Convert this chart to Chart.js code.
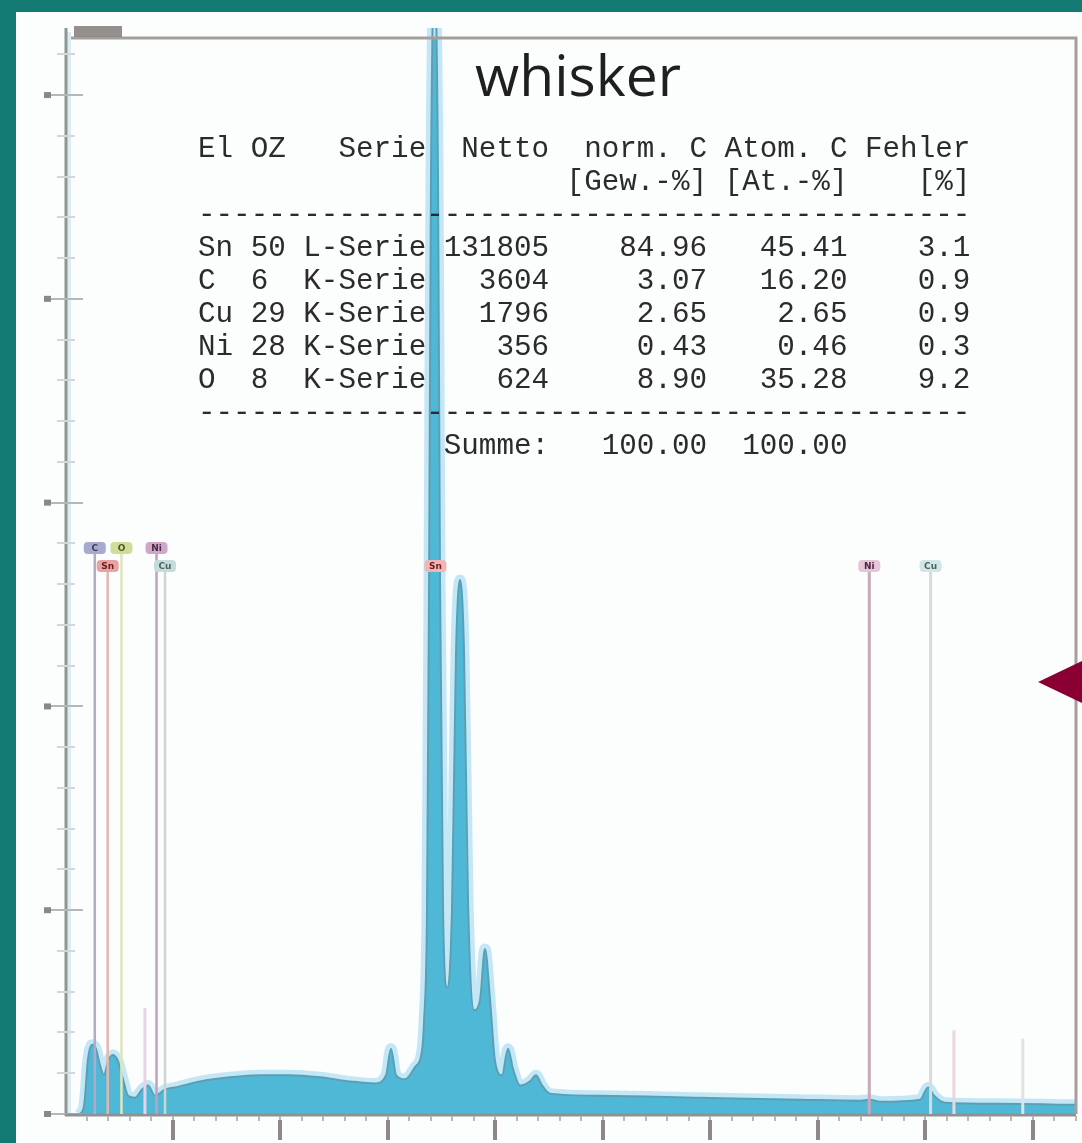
<!DOCTYPE html>
<html><head><meta charset="utf-8">
<script src="https://cdn.jsdelivr.net/npm/chart.js@4.4.1/dist/chart.umd.min.js"></script>
<style>
html,body{margin:0;padding:0;background:#137a73;overflow:hidden}
#wrap{position:absolute;left:0;top:0;width:1082px;height:1143px}
canvas{display:block}
</style></head><body><div id="wrap"><canvas id="c" width="1082" height="1143"></canvas></div>
<script>
// ---------- DATA ----------
const energyKeV = [0.139,0.177,0.214,0.251,0.288,0.325,0.363,0.400,0.446,0.493,0.539,0.586,0.651,0.716,0.772,0.837,0.930,1.023,1.255,1.534,1.813,2.092,2.371,2.650,2.882,2.985,3.031,3.078,3.161,3.254,3.319,3.338,3.366,3.385,3.403,3.436,3.468,3.487,3.515,3.552,3.598,3.636,3.673,3.710,3.747,3.803,3.859,3.905,3.952,3.998,4.063,4.119,4.166,4.231,4.324,4.379,4.435,4.510,4.974,5.904,6.834,7.392,7.485,7.578,7.950,8.024,8.080,8.182,8.694,9.400];
const intensity = [0.00,0.04,0.27,0.34,0.32,0.24,0.19,0.26,0.29,0.26,0.17,0.09,0.08,0.12,0.14,0.09,0.12,0.13,0.16,0.18,0.19,0.19,0.18,0.16,0.15,0.19,0.32,0.19,0.17,0.23,0.31,0.45,1.00,2.60,4.60,5.60,4.60,2.60,1.00,0.62,1.00,2.27,2.62,2.27,1.05,0.51,0.56,0.81,0.56,0.26,0.19,0.32,0.22,0.14,0.16,0.19,0.14,0.10,0.09,0.08,0.07,0.065,0.07,0.06,0.07,0.13,0.09,0.055,0.05,0.045];
const xTickValues = [1,2,3,4,5,6,7,8,9];
const yTickValues = [0,1,2,3,4,5];

const markerLabels   = ['C','O','Ni','Sn','Cu','Sn','Ni','Cu'];
const markerEnergies = [0.277,0.525,0.851,0.397,0.930,3.444,7.478,8.048];
const minorLineEnergies = [0.743,8.265,8.905];
const minorLineHeights  = [0.52,0.41,0.37];

const tableTitle  = 'whisker';
const tableEl     = ['Sn','C','Cu','Ni','O'];
const tableOZ     = ['50','6','29','28','8'];
const tableSerie  = ['L-Serie','K-Serie','K-Serie','K-Serie','K-Serie'];
const tableNetto  = ['131805','3604','1796','356','624'];
const tableNormC  = ['84.96','3.07','2.65','0.43','8.90'];
const tableAtomC  = ['45.41','16.20','2.65','0.46','35.28'];
const tableFehler = ['3.1','0.9','0.9','0.3','9.2'];
const summeNormC  = '100.00';
const summeAtomC  = '100.00';

// ---------- STYLES ----------
const markerStyle = [
  {row:0, box:'#a7a9cf', line:'#b3a9c9', text:'#3c3a5a'},
  {row:0, box:'#cfdc9a', line:'#dfe5bc', text:'#4a5a20'},
  {row:0, box:'#cfa7c9', line:'#bda3bb', text:'#4a2a44'},
  {row:1, box:'#e7a3a0', line:'#e3b6ae', text:'#6a1f22'},
  {row:1, box:'#c4dcdc', line:'#c9d6d3', text:'#4f6262'},
  {row:1, box:'#f2b4b4', line:null,      text:'#6a1f22'},
  {row:1, box:'#e6c6d6', line:'#c8a8ba', text:'#4a2a44'},
  {row:1, box:'#d2e6e6', line:'#d6dbdb', text:'#4f6262'}
];
const minorLineColors = ['#e6d3e6','#ead6dc','#dfe3e3'];
const rowY = [548, 566];

const padStr = (s,n)=>String(s).padStart(n,' ');
function tableLines(){
  const L = [];
  L.push('El '+'OZ '+padStr('Serie',7)+padStr('Netto',7)+padStr('norm. C',9)+padStr('Atom. C',8)+padStr('Fehler',7));
  L.push(' '.repeat(20)+padStr('[Gew.-%]',9)+padStr('[At.-%]',8)+padStr('[%]',7));
  L.push('-'.repeat(44));
  for(let i=0;i<tableEl.length;i++){
    L.push(tableEl[i].padEnd(3,' ')+tableOZ[i].padEnd(3,' ')+tableSerie[i]+padStr(tableNetto[i],7)+padStr(tableNormC[i],9)+padStr(tableAtomC[i],8)+padStr(tableFehler[i],7));
  }
  L.push('-'.repeat(44));
  L.push(' '.repeat(13)+padStr('Summe:',7)+padStr(summeNormC,9)+padStr(summeAtomC,8));
  return L;
}

const decor = {
  id:'decor',
  beforeDraw(chart){
    const c = chart.ctx;
    c.save();
    c.fillStyle = '#137a73';
    c.fillRect(0,0,chart.width,chart.height);
    c.fillStyle = '#fcfdfd';
    c.fillRect(16,12,chart.width-16,chart.height-12);
    c.restore();
  },
  afterDatasetsDraw(chart){
    const c = chart.ctx, a = chart.chartArea, xs = chart.scales.x, ys = chart.scales.y;
    c.save();
    // frame top/right
    c.strokeStyle = '#a59f9c'; c.lineWidth = 3;
    c.beginPath(); c.moveTo(a.left, a.top); c.lineTo(a.right, a.top); c.lineTo(a.right, a.bottom); c.stroke();
    // blob top-left
    c.fillStyle = 'rgba(130,124,122,0.85)';
    c.fillRect(a.left+9, a.top-12, 48, 11);
    // left axis
    c.strokeStyle = '#dcecf0'; c.lineWidth = 4;
    c.beginPath(); c.moveTo(a.left+4, a.top-6); c.lineTo(a.left+4, a.bottom); c.stroke();
    c.strokeStyle = '#8e9694'; c.lineWidth = 3;
    c.beginPath(); c.moveTo(a.left+1, a.top-10); c.lineTo(a.left+1, a.bottom+2); c.stroke();
    // y ticks
    c.lineWidth = 2;
    for(let v=0; v<=ys.max+1e-6; v+=0.2){
      const y = Math.round(ys.getPixelForValue(v));
      const major = Math.abs(v-Math.round(v))<1e-6;
      c.strokeStyle = major ? '#b4b9b8' : '#d3d7d7';
      c.beginPath(); c.moveTo(a.left-(major?20:8), y); c.lineTo(a.left+(major?18:10), y); c.stroke();
    }
    c.fillStyle = '#8a8787';
    yTickValues.forEach(v=>{ const y = ys.getPixelForValue(v); c.fillRect(a.left-21, y-3, 7, 6); });
    // bottom axis
    c.strokeStyle = '#8f9292'; c.lineWidth = 3;
    c.beginPath(); c.moveTo(a.left, a.bottom+1); c.lineTo(a.right, a.bottom+1); c.stroke();
    c.strokeStyle = '#b7b9b9'; c.lineWidth = 2;
    for(let v=0.2; v<xs.max; v+=0.2){
      const x = Math.round(xs.getPixelForValue(v));
      c.beginPath(); c.moveTo(x, a.bottom+2); c.lineTo(x, a.bottom+7); c.stroke();
    }
    c.strokeStyle = '#8d8887'; c.lineWidth = 4;
    xTickValues.forEach(v=>{
      const x = Math.round(xs.getPixelForValue(v));
      c.beginPath(); c.moveTo(x, a.bottom+6); c.lineTo(x, a.bottom+26); c.stroke();
    });
    // minor element lines
    c.lineWidth = 3;
    minorLineEnergies.forEach((e,i)=>{
      const x = xs.getPixelForValue(e);
      c.strokeStyle = minorLineColors[i];
      c.beginPath(); c.moveTo(x, ys.getPixelForValue(minorLineHeights[i])); c.lineTo(x, a.bottom); c.stroke();
    });
    // element marker lines + labels
    markerEnergies.forEach((e,i)=>{
      const st = markerStyle[i];
      const x = xs.getPixelForValue(e);
      const y = rowY[st.row];
      if(st.line){
        c.strokeStyle = st.line; c.lineWidth = (i>=6)?3:2.5;
        c.beginPath(); c.moveTo(x, y+6); c.lineTo(x, a.bottom); c.stroke();
      }
      c.fillStyle = st.box;
      const w = 22, h = 12;
      c.beginPath();
      if(c.roundRect) c.roundRect(x-w/2, y-h/2, w, h, 4); else c.rect(x-w/2, y-h/2, w, h);
      c.fill();
      c.fillStyle = st.text;
      c.font = 'bold 9px "DejaVu Sans"';
      c.textAlign = 'center'; c.textBaseline = 'middle';
      c.fillText(markerLabels[i], x, y+0.5);
    });
    // title
    c.fillStyle = '#1f1f1f';
    c.font = '400 57px "Open Sans"';
    c.textAlign = 'center'; c.textBaseline = 'alphabetic';
    c.fillText(tableTitle, 578, 96);
    // table
    c.font = '29.25px "Liberation Mono"';
    c.textAlign = 'left';
    c.fillStyle = '#2b2b2b';
    tableLines().forEach((ln,i)=>{ c.fillText(ln, 198, 157 + i*33); });
    // red triangle
    c.fillStyle = '#8a0033';
    c.beginPath(); c.moveTo(1038, 682); c.lineTo(1082, 661); c.lineTo(1082, 703); c.closePath(); c.fill();
    c.restore();
  }
};

const pts = energyKeV.map((e,i)=>({x:e, y:intensity[i]}));
new Chart(document.getElementById('c'), {
  type:'line',
  data:{ datasets:[
    { data:pts, fill:'origin', backgroundColor:'#50b8d7', borderColor:'#5d9fb2', borderWidth:2,
      pointRadius:0, cubicInterpolationMode:'monotone', order:1, clip:{left:0,top:10,right:0,bottom:0} },
    { data:pts, fill:false, borderColor:'rgba(165,220,242,0.65)', borderWidth:11,
      pointRadius:0, cubicInterpolationMode:'monotone', order:2, clip:{left:0,top:10,right:0,bottom:0} }
  ]},
  options:{
    responsive:false, animation:false, events:[],
    layout:{ padding:{left:65, right:6, top:38, bottom:29} },
    plugins:{ legend:{display:false}, tooltip:{enabled:false}, title:{display:false} },
    scales:{
      x:{ type:'linear', min:0, max:9.4, display:false },
      y:{ type:'linear', min:0, max:5.28, display:false }
    }
  },
  plugins:[decor]
});
</script></body></html>
